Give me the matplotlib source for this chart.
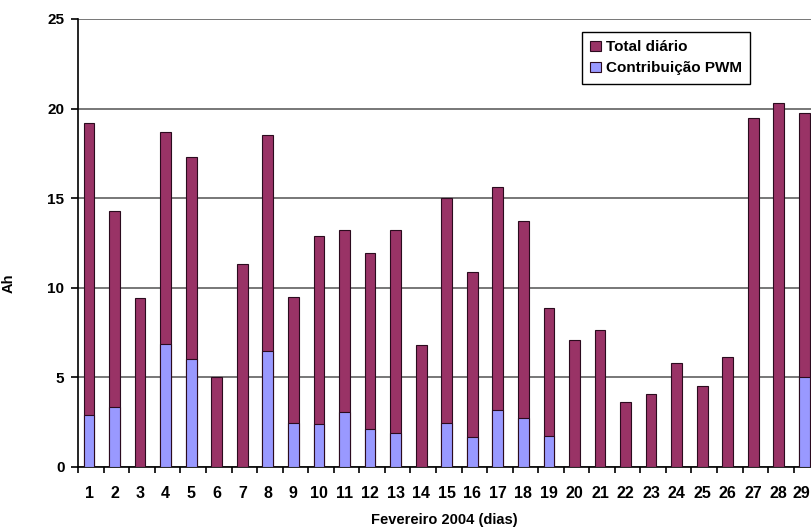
import matplotlib
matplotlib.use('Agg')
import matplotlib.pyplot as plt
import matplotlib.transforms as mtransforms
from matplotlib.patches import Patch
import numpy as np

# Daily values (Ah)
days = list(range(1, 30))
total_diario = [19.2, 14.3, 9.45, 18.7, 17.3, 5.05, 11.35, 18.5, 9.5, 12.9,
                13.25, 11.95, 13.2, 6.8, 15.0, 10.9, 15.65, 13.75, 8.85, 7.1,
                7.65, 3.6, 4.1, 5.8, 4.5, 6.15, 19.45, 20.3, 19.75]
contrib_pwm = [2.9, 3.35, 0, 6.85, 6.0, 0, 0, 6.45, 2.45, 2.4,
               3.05, 2.1, 1.9, 0, 2.45, 1.65, 3.2, 2.75, 1.75, 0,
               0, 0, 0, 0, 0, 0, 0, 0, 5.05]

plt.rcParams['font.family'] = ['Liberation Sans', 'DejaVu Sans']
plt.rcParams['font.weight'] = 'bold'

fig = plt.figure(figsize=(8.11, 5.29), dpi=100)
W, H = 811, 529
# axes runs to the right edge, like the cropped original
ax = fig.add_axes([78.3 / W, (H - 467) / H, (811 - 78.3) / W, (467 - 19) / H])

x = np.array(days)
maroon = '#993366'
lilac = '#9999ff'
edge = '#2b0b1e'
ax.bar(x, total_diario, width=0.42, color=maroon, edgecolor=edge, linewidth=0.8, zorder=3)
ax.bar(x, contrib_pwm, width=0.42, color=lilac, edgecolor=edge, linewidth=0.8, zorder=4)

ax.set_ylim(0, 25)
ax.set_xlim(0.58, 29.26)
ax.set_yticks(np.arange(0, 26, 5))
ax.yaxis.grid(True, color='#606060', linewidth=1.2, zorder=1)
ax.set_axisbelow(True)

ax.set_xticks(x)
ax.set_xticklabels([str(d) for d in days], fontsize=11.5, fontweight='bold')
ax.set_xticks(np.arange(0.58, 29.3, 1.0), minor=True)
ax.tick_params(axis='x', which='major', length=0, pad=14)
ax.tick_params(axis='x', which='minor', length=4, width=1.2, direction='out', color='black')
ax.tick_params(axis='y', length=5, width=1.2, direction='out', labelsize=11, pad=5)
for lbl in ax.get_yticklabels():
    lbl.set_fontweight('bold')

# nudge the last day label so it stays inside the picture
last = ax.get_xticklabels()[-1]
last.set_transform(last.get_transform() + mtransforms.ScaledTranslation(-3 / 100, 0, fig.dpi_scale_trans))

for s in ['top', 'right']:
    ax.spines[s].set_visible(False)
for s in ['left', 'bottom']:
    ax.spines[s].set_linewidth(1.2)
    ax.spines[s].set_color('black')

ax.set_ylabel('Ah', fontsize=10.5, fontweight='bold', labelpad=0)
ax.yaxis.set_label_coords(-63 / (811 - 78.3), 0.41)
ax.set_xlabel('Fevereiro 2004 (dias)', fontsize=10.5, fontweight='bold', labelpad=8)

handles = [Patch(facecolor=maroon, edgecolor=edge, linewidth=0.8, label='Total diário'),
           Patch(facecolor=lilac, edgecolor=edge, linewidth=0.8, label='Contribuição PWM')]
leg = fig.legend(handles=handles, loc='upper left', bbox_to_anchor=(582 / W, 1 - 32 / H),
                 borderaxespad=0, frameon=True, fancybox=False, edgecolor='black',
                 framealpha=1, prop={'size': 11, 'weight': 'bold'},
                 handlelength=0.7, handleheight=0.7, handletextpad=0.3,
                 borderpad=0.55, labelspacing=0.45)
leg.get_frame().set_linewidth(1.0)

fig.savefig('out.png', dpi=100)
